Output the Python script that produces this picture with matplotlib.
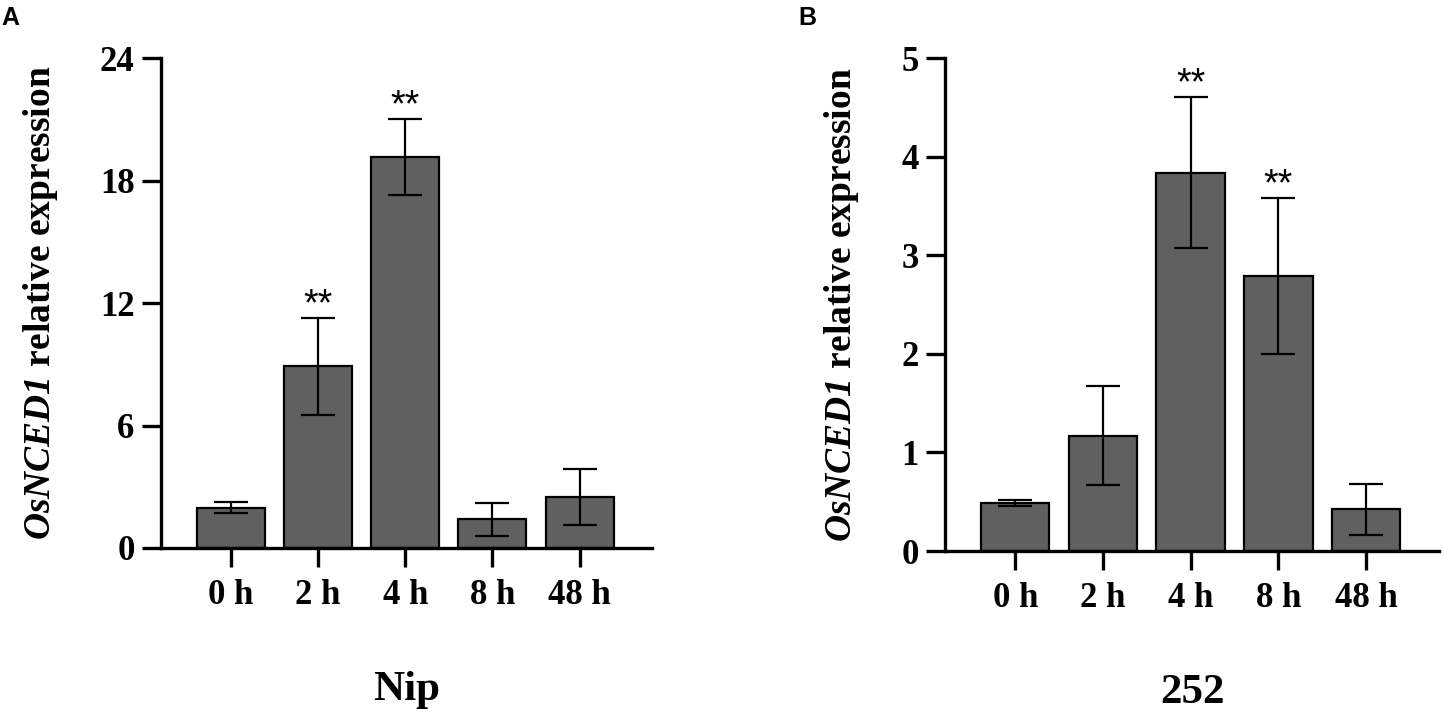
import numpy as np
import matplotlib
matplotlib.use('Agg')
import matplotlib.pyplot as plt

plt.rcParams['font.family'] = 'Liberation Serif'
plt.rcParams['font.weight'] = 'bold'
plt.rcParams['axes.labelweight'] = 'bold'
plt.rcParams['mathtext.fontset'] = 'custom'
plt.rcParams['mathtext.it'] = 'Liberation Serif:italic:bold'
plt.rcParams['mathtext.rm'] = 'Liberation Serif:italic:bold'

times = ['0 h', '2 h', '4 h', '8 h', '48 h']

nip_mean = [1.97, 8.9, 19.15, 1.4, 2.5]
nip_err = [0.27, 2.36, 1.87, 0.8, 1.35]
nip_sig = ['', '**', '**', '', '']

l252_mean = [0.485, 1.17, 3.84, 2.79, 0.425]
l252_err = [0.03, 0.5, 0.77, 0.79, 0.26]
l252_sig = ['', '', '**', '**', '']

W, H = 1444, 715
fig = plt.figure(figsize=(W / 100, H / 100), dpi=100)


def panel(rect, mean, err, sig, ymax, step, group, letter, lx):
    ax = fig.add_axes(rect)
    x = np.arange(len(times))
    ax.bar(x, mean, width=0.78, color='#606060', edgecolor='black', linewidth=1.6, zorder=2)
    ax.errorbar(x, mean, yerr=err, fmt='none', ecolor='black', elinewidth=1.6,
                capsize=12, capthick=1.6, zorder=3)
    for xi, m, e, s in zip(x, mean, err, sig):
        if s:
            ax.annotate(s, (xi, m + e), xytext=(0, 2), textcoords='offset points',
                        ha='center', va='baseline', fontsize=27, fontweight='normal',
                        family='Liberation Sans')
    ax.set_xlim(-0.80, 4.83)
    ax.set_ylim(0, ymax)
    ax.set_yticks(np.arange(0, ymax + step / 2, step))
    ax.set_xticks(x)
    ax.set_xticklabels(times)
    for side in ['top', 'right']:
        ax.spines[side].set_visible(False)
    for side in ['left', 'bottom']:
        ax.spines[side].set_linewidth(2.4)
    ax.tick_params(axis='both', direction='out', length=14, width=2.4, labelsize=25)
    ax.tick_params(axis='x', pad=8)
    ax.tick_params(axis='y', pad=5)
    ax.set_ylabel(r'$OsNCED1$ relative expression', fontsize=27,
                  fontweight='bold', labelpad=29)
    ax.set_xlabel(group, fontsize=31, fontweight='bold', labelpad=43)
    fig.text(lx, 1 - 6 / H, letter, ha='left', va='top', fontsize=18,
             fontweight='bold', family='Liberation Sans')
    return ax


panel([161 / W, (H - 548) / H, 491 / W, 489.7 / H], nip_mean, nip_err, nip_sig,
      24, 6, 'Nip', 'A', 1 / W)
panel([945 / W, (H - 551) / H, 494 / W, 492.7 / H], l252_mean, l252_err, l252_sig,
      5, 1, '252', 'B', 798 / W)

fig.savefig('out.png', dpi=100)
